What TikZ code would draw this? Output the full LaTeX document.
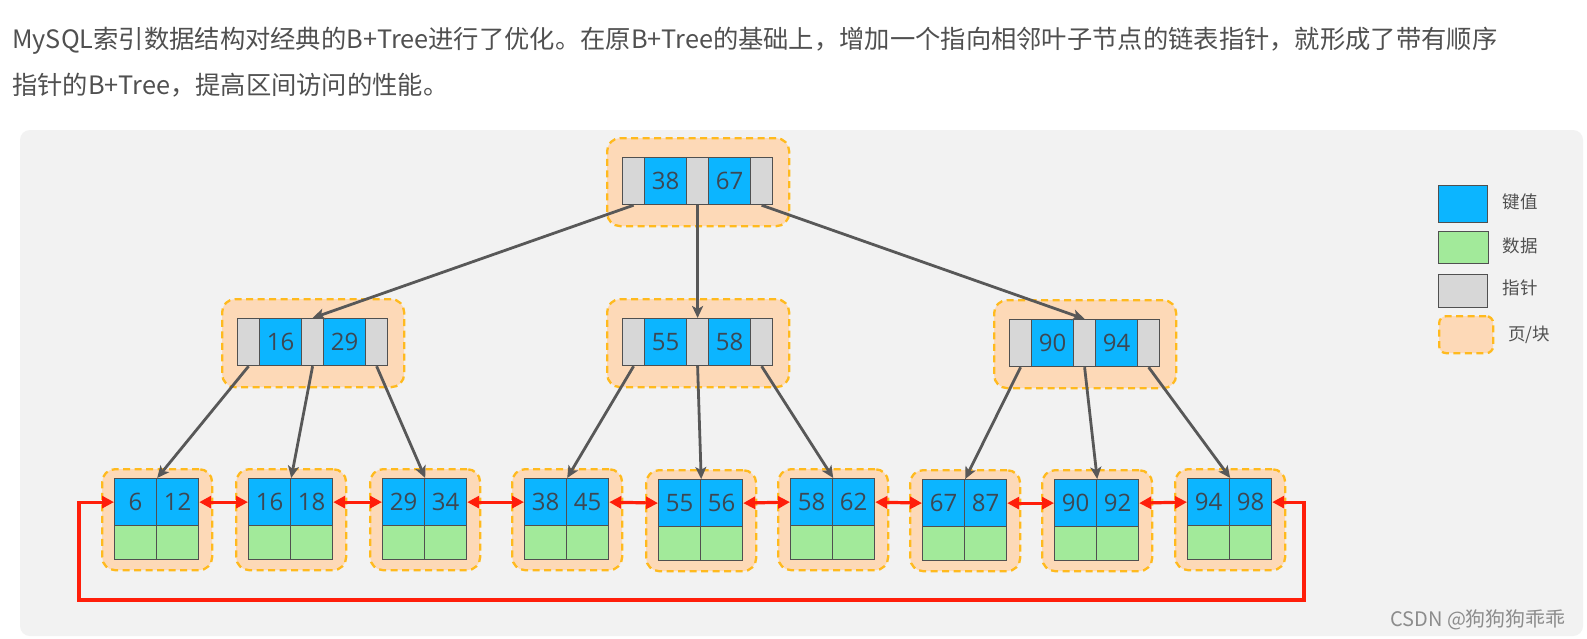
\documentclass[tikz,border=0pt]{standalone}
\usepackage{fontspec}
\setmainfont{Open Sans}
\newfontfamily\cjk{Noto Sans CJK SC}
\usetikzlibrary{arrows.meta}
\definecolor{keyblue}{RGB}{12,181,255}
\definecolor{datagreen}{RGB}{162,234,154}
\definecolor{ptrgray}{RGB}{215,215,215}
\definecolor{cellline}{RGB}{80,80,80}
\definecolor{pagefill}{RGB}{253,217,183}
\definecolor{pagedash}{RGB}{255,186,30}
\definecolor{panelgray}{RGB}{242,242,242}
\definecolor{ptrline}{RGB}{88,88,88}
\definecolor{linkred}{RGB}{255,30,10}
\definecolor{numtext}{RGB}{60,72,84}
\definecolor{bodytext}{RGB}{80,80,80}
\definecolor{marktext}{RGB}{140,140,140}
\newcommand{\innernode}[5]{%
  \node[pagebox, minimum width=182pt, minimum height=88pt, anchor=north west] (#1-page) at ({#2-16},{#3-20}) {};
  \node[gcell, anchor=north west] (#1-g1) at (#2,#3) {};
  \node[kcell, anchor=north west] (#1-k1) at ({#2+22},#3) {#4};
  \node[gcell, anchor=north west] (#1-g2) at ({#2+64},#3) {};
  \node[kcell, anchor=north west] (#1-k2) at ({#2+86},#3) {#5};
  \node[gcell, anchor=north west] (#1-g3) at ({#2+128},#3) {};
}
\newcommand{\leafnode}[5]{%
  \node[pagebox, minimum width=110pt, minimum height=101pt, anchor=north west] (#1-page) at ({#2-13},{#3-10}) {};
  \node[kcell, anchor=north west] (#1-k1) at (#2,#3) {#4};
  \node[kcell, anchor=north west] (#1-k2) at ({#2+42},#3) {#5};
  \node[dcell, anchor=north west] (#1-d1) at (#2,{#3+47}) {};
  \node[dcell, anchor=north west] (#1-d2) at ({#2+42},{#3+47}) {};
}
\begin{document}
\begin{tikzpicture}[x=1pt,y=-1pt,
  pagebox/.style={draw=pagedash, fill=pagefill, line width=2.3pt, dash pattern=on 7pt off 4.5pt, rounded corners=13pt, inner sep=0pt},
  cellbase/.style={draw=cellline, line width=1.2pt, inner sep=0pt, text=numtext, font=\fontsize{24}{28}\selectfont},
  gcell/.style={cellbase, fill=ptrgray, minimum width=22pt, minimum height=47pt},
  kcell/.style={cellbase, fill=keyblue, minimum width=42pt, minimum height=47pt},
  dcell/.style={cellbase, fill=datagreen, minimum width=42pt, minimum height=34pt},
  ptr/.style={draw=ptrline, line width=2.8pt, -{Stealth[length=12pt,width=11pt,inset=3pt]}},
  link/.style={draw=linkred, line width=3.2pt, {Triangle[length=12pt,width=12pt]}-{Triangle[length=12pt,width=12pt]}},
  legtext/.style={text=bodytext, font=\cjk\fontsize{17.5}{20}\selectfont, inner sep=0pt},
  bodyline/.style={text=bodytext, font=\cjk\fontsize{25.3}{30}\selectfont, inner sep=0pt, anchor=base west}
]
\useasboundingbox (0,0) rectangle (1587,638);
\fill[white] (0,0) rectangle (1587,638);
\fill[panelgray, rounded corners=10pt] (20,130) rectangle (1583,636);

% top text
\node[bodyline] (line1) at (12,48.5) {MySQL索引数据结构对经典的B+Tree进行了优化。在原B+Tree的基础上，增加一个指向相邻叶子节点的链表指针，就形成了带有顺序};
\node[bodyline] (line2) at (12,94.5) {指针的B+Tree，提高区间访问的性能。};

% internal nodes
\innernode{r}{622}{157}{38}{67}
\innernode{a}{237}{318}{16}{29}
\innernode{m}{622}{318}{55}{58}
\innernode{c}{1009}{319}{90}{94}

% leaves
\leafnode{l1}{114}{478}{6}{12}
\leafnode{l2}{248}{478}{16}{18}
\leafnode{l3}{382}{478}{29}{34}
\leafnode{l4}{524}{478}{38}{45}
\leafnode{l5}{658}{479}{55}{56}
\leafnode{l6}{790}{478}{58}{62}
\leafnode{l7}{922}{479}{67}{87}
\leafnode{l8}{1054}{479}{90}{92}
\leafnode{l9}{1187}{478}{94}{98}

% tree pointers
\draw[ptr] (r-g1.south) -- (a-g2.north);
\draw[ptr] (r-g2.south) -- (m-g2.north);
\draw[ptr] (r-g3.south) -- (c-g2.north);
\draw[ptr] (a-g1.south) -- (l1-k1.north east);
\draw[ptr] (a-g2.south) -- (l2-k1.north east);
\draw[ptr] (a-g3.south) -- (l3-k1.north east);
\draw[ptr] (m-g1.south) -- (l4-k1.north east);
\draw[ptr] (m-g2.south) -- (l5-k1.north east);
\draw[ptr] (m-g3.south) -- (l6-k1.north east);
\draw[ptr] (c-g1.south) -- (l7-k1.north east);
\draw[ptr] (c-g2.south) -- (l8-k1.north east);
\draw[ptr] (c-g3.south) -- (l9-k1.north east);

% leaf links
\foreach \i [evaluate=\i as \j using int(\i+1)] in {1,...,8} {
  \draw[link] (l\i-k2.east) -- (l\j-k1.west);
}
\coordinate (loopR) at (1304,600);
\coordinate (loopL) at (79,600);
\draw[link] (l9-k2.east) -| (loopR) -- (loopL) |- (l1-k1.west);

% legend
\node[draw=cellline, line width=1.2pt, fill=keyblue, minimum width=49pt, minimum height=37pt, anchor=north west, inner sep=0pt] (lg-key) at (1438,185) {};
\node[draw=cellline, line width=1.2pt, fill=datagreen, minimum width=50pt, minimum height=32pt, anchor=north west, inner sep=0pt] (lg-data) at (1438,231) {};
\node[draw=cellline, line width=1.2pt, fill=ptrgray, minimum width=49pt, minimum height=33pt, anchor=north west, inner sep=0pt] (lg-ptr) at (1438,274) {};
\node[pagebox, rounded corners=7pt, minimum width=54pt, minimum height=37pt, anchor=north west] (lg-page) at (1438,315) {};
\node[legtext] (lt-key) at (1520,202) {键值};
\node[legtext] (lt-data) at (1520,246) {数据};
\node[legtext] (lt-ptr) at (1520,288) {指针};
\node[legtext] (lt-page) at (1529,335) {页/块};

% watermark
\node[text=marktext, font=\cjk\fontsize{20}{23}\selectfont, inner sep=0pt, anchor=west] (mark) at (1390,620) {CSDN @狗狗狗乖乖};
\end{tikzpicture}
\end{document}
